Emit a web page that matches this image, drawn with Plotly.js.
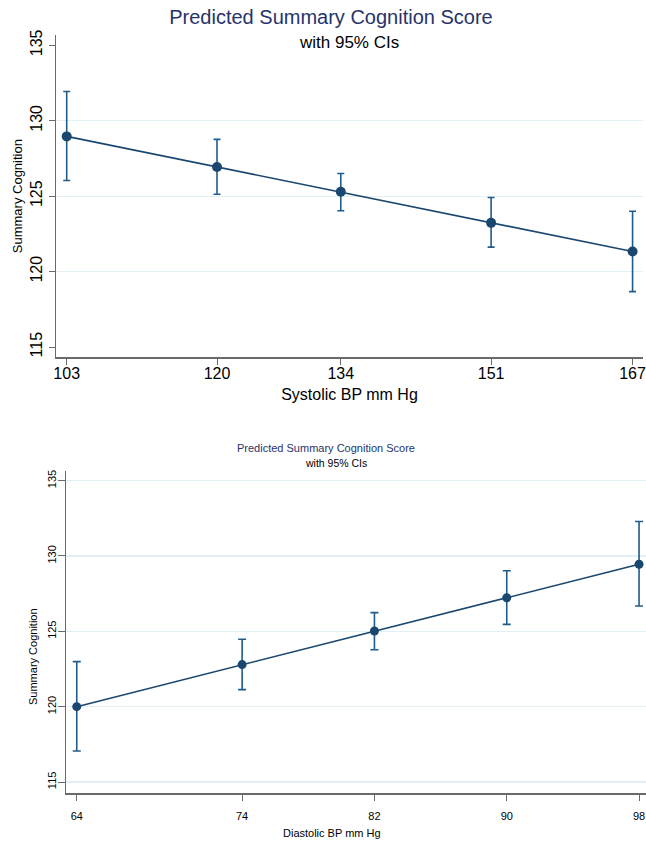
<!DOCTYPE html>
<html>
<head>
<meta charset="utf-8">
<script src="https://cdn.plot.ly/plotly-3.0.1.min.js"></script>
<style>html,body{margin:0;padding:0;background:#fff;}#chart{width:646px;height:842px;}</style>
</head>
<body>
<div id="chart"></div>
<script>
// ---- data ----
const sysBP  = [103, 120, 134, 151, 167];
const sysEst = [128.96, 126.93, 125.29, 123.23, 121.33];
const sysLo  = [126.04, 125.13, 124.03, 121.62, 118.67];
const sysHi  = [131.94, 128.76, 126.50, 124.91, 124.00];

const diaBP  = [64, 74, 82, 90, 98];
const diaEst = [120.00, 122.79, 125.02, 127.23, 129.45];
const diaLo  = [117.06, 121.13, 123.78, 125.46, 126.68];
const diaHi  = [122.99, 124.47, 126.24, 129.02, 132.29];

const yTicks   = [115, 120, 125, 130, 135];
const sysGrid  = [120, 125, 130];

const titleText = 'Predicted Summary Cognition Score';
const subText   = 'with 95% CIs';
const yTitle    = 'Summary Cognition';
const sysTitle  = 'Systolic BP mm Hg';
const diaTitle  = 'Diastolic BP mm Hg';

// ---- styling ----
const FONT = '"Liberation Sans", Arial, Helvetica, sans-serif';
const W = 646, H = 842;
const NAVY = '#1a476f';
const ERR = '#1f5c8c';
const AX = '#6a6a6a';
const GRID = '#e2eff4';
const TITLE = '#27336b';

const px = v => v / W;
const py = v => 1 - v / H;

function ciTrace(x, est, lo, hi, xa, ya, msize, capw) {
  return {
    type: 'scatter', mode: 'lines+markers',
    x: x, y: est, xaxis: xa, yaxis: ya,
    line: {color: NAVY, width: 1.6},
    marker: {color: NAVY, size: msize},
    error_y: {
      type: 'data', symmetric: false,
      array: hi.map((h, i) => h - est[i]),
      arrayminus: lo.map((l, i) => est[i] - l),
      color: ERR, thickness: 1.6, width: capw
    },
    hoverinfo: 'skip', showlegend: false
  };
}

const data = [
  ciTrace(sysBP, sysEst, sysLo, sysHi, 'x', 'y', 10, 3.5),
  ciTrace(diaBP, diaEst, diaLo, diaHi, 'x2', 'y2', 9, 4)
];

const layout = {
  width: W, height: H, autosize: false,
  margin: {l: 0, r: 0, t: 0, b: 0, pad: 0},
  paper_bgcolor: '#fff', plot_bgcolor: '#fff',
  font: {family: FONT, color: '#000'},
  showlegend: false,
  title: {
    text: titleText, font: {size: 20, color: TITLE, family: FONT},
    x: px(331), xanchor: 'center', xref: 'paper',
    y: py(17), yanchor: 'middle', yref: 'paper'
  },
  xaxis: {
    domain: [px(56), px(643)], anchor: 'y',
    range: [101.79, 168.18],
    tickmode: 'array', tickvals: sysBP,
    ticks: 'outside', ticklen: 6, tickwidth: 1, tickcolor: AX,
    showline: true, linecolor: AX, linewidth: 1.5,
    showgrid: false, zeroline: false,
    tickfont: {size: 16, color: '#000'},
    ticklabelstandoff: -5, ticklabeloverflow: 'allow',
    title: {text: sysTitle, font: {size: 16, color: '#000'}, standoff: 8}
  },
  yaxis: {
    domain: [py(357.3), py(35)], anchor: 'x',
    range: [114.32, 135.68],
    tickmode: 'array', tickvals: yTicks, tickangle: -90,
    ticks: 'outside', ticklen: 6, tickwidth: 1, tickcolor: AX,
    showline: true, linecolor: AX, linewidth: 1.5,
    showgrid: false, zeroline: false,
    minor: {tickmode: 'array', tickvals: sysGrid, showgrid: true, gridcolor: GRID, gridwidth: 1.2, ticks: ''},
    tickfont: {size: 16, color: '#000'},
    ticklabeloverflow: 'allow',
    title: {text: yTitle, font: {size: 13, color: '#000'}, standoff: 2}
  },
  xaxis2: {
    domain: [px(66), 1], anchor: 'y2',
    range: [63.35, 98.42],
    tickmode: 'array', tickvals: diaBP,
    ticks: 'outside', ticklen: 6, tickwidth: 1, tickcolor: AX,
    showline: true, linecolor: AX, linewidth: 1.5,
    showgrid: false, zeroline: false,
    tickfont: {size: 11, color: '#000'},
    ticklabelstandoff: 6, ticklabeloverflow: 'allow'
  },
  yaxis2: {
    domain: [py(793), py(470.7)], anchor: 'x2',
    range: [114.27, 135.66],
    tickmode: 'array', tickvals: yTicks, tickangle: -90,
    ticks: 'outside', ticklen: 7, tickwidth: 1, tickcolor: AX,
    showline: true, linecolor: AX, linewidth: 1.5,
    showgrid: true, gridcolor: GRID, gridwidth: 1.2, zeroline: false,
    tickfont: {size: 11, color: '#000'},
    ticklabelstandoff: -3, ticklabeloverflow: 'allow'
  },
  annotations: [
    {text: subText, x: px(349), y: py(42.7), xref: 'paper', yref: 'paper',
     xanchor: 'center', yanchor: 'middle', showarrow: false,
     font: {size: 17, color: '#000', family: FONT}},
    {text: titleText, x: px(326.5), y: py(448.3), xref: 'paper', yref: 'paper',
     xanchor: 'center', yanchor: 'middle', showarrow: false,
     font: {size: 11, color: TITLE, family: FONT}},
    {text: subText, x: px(335.5), y: py(463.3), xref: 'paper', yref: 'paper',
     xanchor: 'center', yanchor: 'middle', showarrow: false,
     font: {size: 10.5, color: '#000', family: FONT}},
    {text: yTitle, x: px(33), y: py(657), xref: 'paper', yref: 'paper',
     xanchor: 'center', yanchor: 'middle', showarrow: false, textangle: -90,
     font: {size: 11, color: '#000', family: FONT}},
    {text: diaTitle, x: px(331.5), y: py(833.3), xref: 'paper', yref: 'paper',
     xanchor: 'center', yanchor: 'middle', showarrow: false,
     font: {size: 11, color: '#000', family: FONT}}
  ]
};

Plotly.newPlot('chart', data, layout, {staticPlot: true, displayModeBar: false});
</script>
</body>
</html>
